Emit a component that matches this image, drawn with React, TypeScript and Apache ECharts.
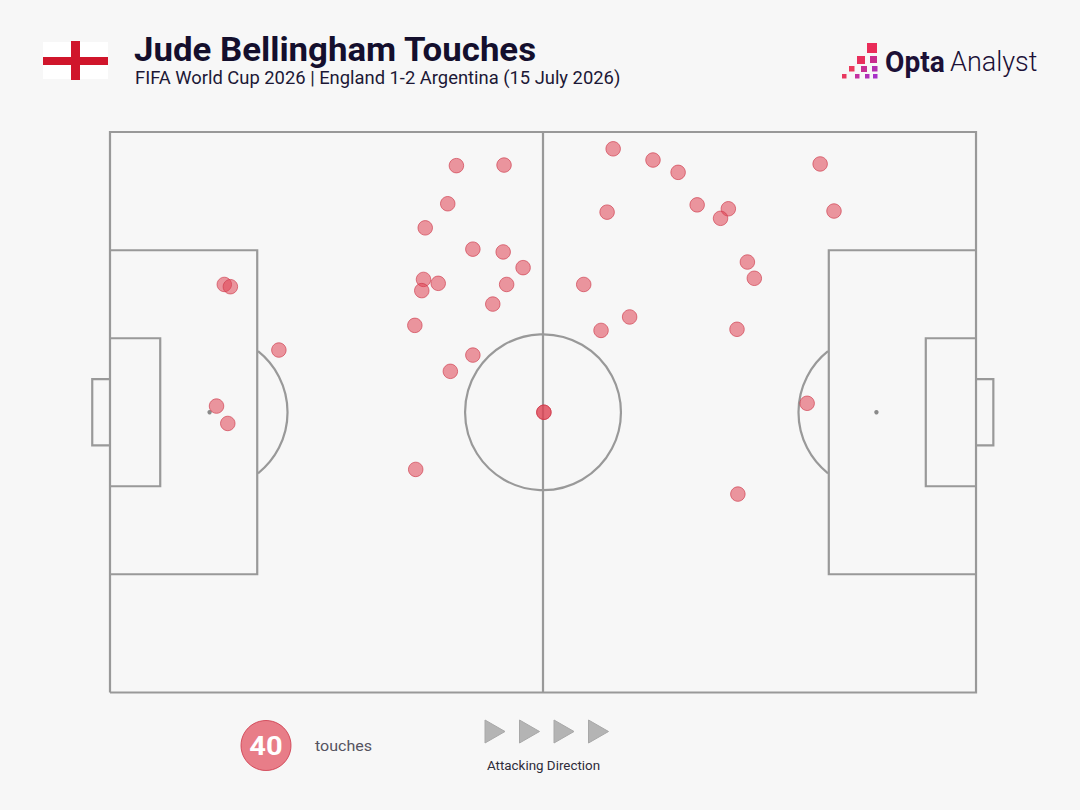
import React, { useEffect, useRef } from "react";
import * as echarts from "echarts";

// Touch locations on a 0-100 pitch (own half left, attacking to the right)
const touchX = [40.0,45.5,39.0,36.4,41.9,45.4,47.7,36.2,37.9,36.0,45.8,44.2,35.2,41.9,39.3,35.3,13.2,13.9,19.5,12.3,13.6,50.1,50.1,58.1,62.7,65.6,82.0,57.4,67.8,71.4,70.5,83.6,73.6,74.4,54.7,60.0,56.7,72.4,80.5,72.5];
const touchY = [94.0,94.1,87.2,82.9,79.1,78.6,75.8,73.7,73.0,71.7,72.8,69.3,65.5,60.2,57.3,39.8,72.8,72.4,61.1,51.1,48.0,50,50,97.0,95,92.8,94.3,85.7,87.0,86.3,84.6,85.9,76.8,73.9,72.8,67.0,64.6,64.8,51.6,35.4];

// Pitch markings as polylines in pitch units
const pitchLines: number[][][] = [
  [[0,0],[100,0],[100,100],[0,100],[0,0]],
  [[50,0],[50,100]],
  [[0,78.9],[17,78.9],[17,21.1],[0,21.1]],
  [[0,63.2],[5.8,63.2],[5.8,36.8],[0,36.8]],
  [[0,55.9],[-2.05,55.9],[-2.05,44.1],[0,44.1]],
  [[100,78.9],[83,78.9],[83,21.1],[100,21.1]],
  [[100,63.2],[94.2,63.2],[94.2,36.8],[100,36.8]],
  [[100,55.9],[102,55.9],[102,44.1],[100,44.1]],
];
const penaltySpots = [[11.5,50],[88.5,50]];
const centreSpot = [50,50];
const circleRadiusX = 9.0;
const arcHalfAngle = 0.9; // radians

const TITLE = "Jude Bellingham Touches";
const SUBTITLE = "FIFA World Cup 2026 | England 1-2 Argentina (15 July 2026)";
const TOUCHES = "40";
const LINE = "#999999";
const RED = "rgba(224,66,82,0.68)";
const RED_BORDER = "rgba(205,55,72,0.8)";
const FONT = "Roboto";

const logoSquares = [
  [867,43,10,"#ea2c59"],
  [857,56,8,"#e82f5c"],[870,56,7,"#c92c8c"],
  [849,66,5.5,"#ea3a5c"],[861,66,6,"#c62f92"],[872,66,5.5,"#b32fb0"],
  [842,74,4.5,"#e8385e"],[855,74,4.5,"#c430a0"],[865,74,4.5,"#b030b8"],[873,74,4.5,"#a832c8"],
];
const arrowXs = [485,519.5,554,588.5];

export default function App() {
  const ref = useRef<HTMLDivElement>(null);
  useEffect(() => {
    document.body.style.margin = "0";
    document.body.style.background = "#f7f7f7";
    const chart = echarts.init(ref.current!, undefined, { renderer: "svg" });
    chart.setOption({
      animation: false,
      backgroundColor: "#f7f7f7",
      grid: { left: 91.81, top: 132, width: 902.4, height: 560.5 },
      xAxis: { type: "value", min: -2.1, max: 102.1, show: false },
      yAxis: { type: "value", min: 0, max: 100, show: false },
      series: [
        ...pitchLines.map((l) => ({
          type: "line", data: l, symbol: "none", silent: true, clip: false,
          lineStyle: { color: LINE, width: 2.2, join: "miter" }, z: 1,
        })),
        {
          type: "custom", silent: true, clip: false, z: 1, data: [0],
          renderItem: (_: any, api: any) => {
            const c = api.coord(centreSpot);
            const r = api.size([circleRadiusX, 0])[0];
            const style = { stroke: LINE, lineWidth: 2.2, fill: "none" };
            const left = api.coord(penaltySpots[0]);
            const right = api.coord(penaltySpots[1]);
            return {
              type: "group",
              children: [
                { type: "circle", shape: { cx: c[0], cy: c[1], r }, style },
                { type: "arc", shape: { cx: left[0], cy: left[1], r, startAngle: -arcHalfAngle, endAngle: arcHalfAngle }, style },
                { type: "arc", shape: { cx: right[0], cy: right[1], r, startAngle: Math.PI - arcHalfAngle, endAngle: Math.PI + arcHalfAngle }, style },
                { type: "circle", shape: { cx: left[0], cy: left[1], r: 2.2 }, style: { fill: "#8a8a8a" } },
                { type: "circle", shape: { cx: right[0], cy: right[1], r: 2.2 }, style: { fill: "#8a8a8a" } },
              ],
            };
          },
        },
        {
          type: "scatter", clip: false, z: 3, symbolSize: 14.5,
          data: touchX.map((x, i) => [x, touchY[i]]),
          itemStyle: { color: RED, borderColor: RED_BORDER, borderWidth: 1 },
        },
      ],
      graphic: [
        // flag
        { type: "rect", shape: { x: 43, y: 42, width: 65, height: 37 }, style: { fill: "#ffffff" } },
        { type: "rect", shape: { x: 71, y: 41, width: 9, height: 39 }, style: { fill: "#d0152b" } },
        { type: "rect", shape: { x: 43, y: 57, width: 65, height: 8 }, style: { fill: "#d0152b" } },
        // titles
        { type: "text", x: 134, y: 33.5, scaleX: 1.055, style: { text: TITLE, fill: "#140f2d", font: `bold 33px ${FONT}` } },
        { type: "text", x: 135, y: 69, scaleX: 1.021, style: { text: SUBTITLE, fill: "#1c1836", font: `18px ${FONT}` } },
        // logo
        ...logoSquares.map(([x, y, s, c]) => ({ type: "rect", shape: { x, y, width: s, height: s }, style: { fill: c } })),
        { type: "text", x: 885, y: 48, scaleX: 0.97, style: { text: "Opta", fill: "#1c1036", font: `bold 29px ${FONT}` } },
        { type: "text", x: 950, y: 48, scaleX: 1.0, style: { text: "Analyst", fill: "#1c1036", font: `300 27px ${FONT}` } },
        // legend
        { type: "circle", shape: { cx: 266, cy: 745.5, r: 25 }, style: { fill: RED, stroke: RED_BORDER, lineWidth: 1 } },
        { type: "text", x: 266, y: 746, scaleX: 1.12, style: { text: TOUCHES, fill: "#ffffff", font: `bold 26px ${FONT}`, align: "center", verticalAlign: "middle" } },
        { type: "text", x: 315, y: 739, scaleX: 1.07, style: { text: "touches", fill: "#55535f", font: `15px ${FONT}` } },
        ...arrowXs.map((x) => ({
          type: "polygon", shape: { points: [[x, 720], [x + 20, 731.5], [x, 743]] },
          style: { fill: "#b4b4b4", stroke: "#a8a8a8", lineWidth: 1 },
        })),
        { type: "text", x: 543.5, y: 759, scaleX: 1.03, style: { text: "Attacking Direction", fill: "#2e2c3a", font: `13px ${FONT}`, align: "center" } },
      ],
    });
    return () => chart.dispose();
  }, []);
  return <div ref={ref} style={{ width: 1080, height: 810 }} />;
}
